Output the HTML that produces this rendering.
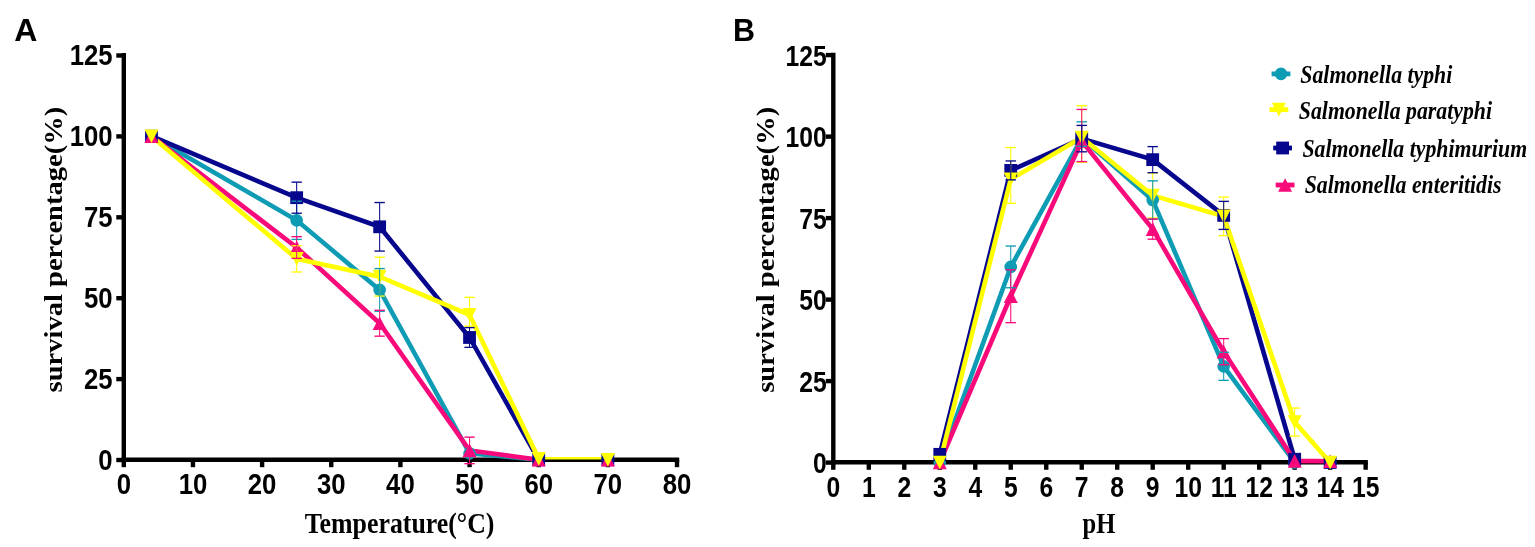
<!DOCTYPE html><html><head><meta charset="utf-8"><title>Survival percentage of Salmonella vs temperature and pH</title>
<style>html,body{margin:0;padding:0;background:#fff;}svg{display:block;filter:blur(0.45px);}</style></head><body>
<svg width="1535" height="547" viewBox="0 0 1535 547">
<rect width="1535" height="547" fill="#fff"/>
<text transform="translate(14.3,40.6) scale(1.05,1)" font-family="'Liberation Sans', Arial, sans-serif" font-size="30.5" font-weight="bold" font-style="normal" text-anchor="start" fill="#000">A</text>
<text transform="translate(733,40.6)" font-family="'Liberation Sans', Arial, sans-serif" font-size="30.5" font-weight="bold" font-style="normal" text-anchor="start" fill="#000">B</text>
<g stroke="#000" stroke-width="4.4" fill="none" stroke-linecap="butt">
<line x1="123.8" y1="53.1" x2="123.8" y2="461.9"/>
<line x1="121.6" y1="459.7" x2="679.2" y2="459.7"/>
<line x1="116.3" y1="460" x2="123.8" y2="460"/>
<line x1="116.3" y1="379.1" x2="123.8" y2="379.1"/>
<line x1="116.3" y1="298.2" x2="123.8" y2="298.2"/>
<line x1="116.3" y1="217.3" x2="123.8" y2="217.3"/>
<line x1="116.3" y1="136.4" x2="123.8" y2="136.4"/>
<line x1="116.3" y1="55.5" x2="123.8" y2="55.5"/>
<line x1="123.8" y1="459.7" x2="123.8" y2="467.2"/>
<line x1="192.95" y1="459.7" x2="192.95" y2="467.2"/>
<line x1="262.1" y1="459.7" x2="262.1" y2="467.2"/>
<line x1="331.25" y1="459.7" x2="331.25" y2="467.2"/>
<line x1="400.4" y1="459.7" x2="400.4" y2="467.2"/>
<line x1="469.55" y1="459.7" x2="469.55" y2="467.2"/>
<line x1="538.7" y1="459.7" x2="538.7" y2="467.2"/>
<line x1="607.85" y1="459.7" x2="607.85" y2="467.2"/>
<line x1="677" y1="459.7" x2="677" y2="467.2"/>
</g>
<text transform="translate(112.6,469.6) scale(0.875,1)" font-family="'Liberation Sans', Arial, sans-serif" font-size="29.4" font-weight="bold" font-style="normal" text-anchor="end" fill="#000">0</text>
<text transform="translate(112.6,388.7) scale(0.875,1)" font-family="'Liberation Sans', Arial, sans-serif" font-size="29.4" font-weight="bold" font-style="normal" text-anchor="end" fill="#000">25</text>
<text transform="translate(112.6,307.8) scale(0.875,1)" font-family="'Liberation Sans', Arial, sans-serif" font-size="29.4" font-weight="bold" font-style="normal" text-anchor="end" fill="#000">50</text>
<text transform="translate(112.6,226.9) scale(0.875,1)" font-family="'Liberation Sans', Arial, sans-serif" font-size="29.4" font-weight="bold" font-style="normal" text-anchor="end" fill="#000">75</text>
<text transform="translate(112.6,146) scale(0.875,1)" font-family="'Liberation Sans', Arial, sans-serif" font-size="29.4" font-weight="bold" font-style="normal" text-anchor="end" fill="#000">100</text>
<text transform="translate(112.6,65.1) scale(0.875,1)" font-family="'Liberation Sans', Arial, sans-serif" font-size="29.4" font-weight="bold" font-style="normal" text-anchor="end" fill="#000">125</text>
<text transform="translate(123.8,494) scale(0.875,1)" font-family="'Liberation Sans', Arial, sans-serif" font-size="29.4" font-weight="bold" font-style="normal" text-anchor="middle" fill="#000">0</text>
<text transform="translate(192.95,494) scale(0.875,1)" font-family="'Liberation Sans', Arial, sans-serif" font-size="29.4" font-weight="bold" font-style="normal" text-anchor="middle" fill="#000">10</text>
<text transform="translate(262.1,494) scale(0.875,1)" font-family="'Liberation Sans', Arial, sans-serif" font-size="29.4" font-weight="bold" font-style="normal" text-anchor="middle" fill="#000">20</text>
<text transform="translate(331.25,494) scale(0.875,1)" font-family="'Liberation Sans', Arial, sans-serif" font-size="29.4" font-weight="bold" font-style="normal" text-anchor="middle" fill="#000">30</text>
<text transform="translate(400.4,494) scale(0.875,1)" font-family="'Liberation Sans', Arial, sans-serif" font-size="29.4" font-weight="bold" font-style="normal" text-anchor="middle" fill="#000">40</text>
<text transform="translate(469.55,494) scale(0.875,1)" font-family="'Liberation Sans', Arial, sans-serif" font-size="29.4" font-weight="bold" font-style="normal" text-anchor="middle" fill="#000">50</text>
<text transform="translate(538.7,494) scale(0.875,1)" font-family="'Liberation Sans', Arial, sans-serif" font-size="29.4" font-weight="bold" font-style="normal" text-anchor="middle" fill="#000">60</text>
<text transform="translate(607.85,494) scale(0.875,1)" font-family="'Liberation Sans', Arial, sans-serif" font-size="29.4" font-weight="bold" font-style="normal" text-anchor="middle" fill="#000">70</text>
<text transform="translate(677,494) scale(0.875,1)" font-family="'Liberation Sans', Arial, sans-serif" font-size="29.4" font-weight="bold" font-style="normal" text-anchor="middle" fill="#000">80</text>
<polyline points="151.46,136.2 296.68,220.34 379.65,289.91 469.55,453.33 538.7,459.8" fill="none" stroke="#0e9bb4" stroke-width="4.6" stroke-linejoin="miter"/>
<polyline points="151.46,136.2 296.68,197.68 379.65,226.81 469.55,337.48 538.7,459.8" fill="none" stroke="#07078e" stroke-width="4.6" stroke-linejoin="miter"/>
<polyline points="151.46,136.2 296.68,247.52 379.65,323.24 469.55,450.42 538.7,459.8" fill="none" stroke="#f80a7a" stroke-width="4.6" stroke-linejoin="miter"/>
<polyline points="151.46,136.2 296.68,258.84 379.65,276.64 469.55,314.83 538.7,458.83" fill="none" stroke="#ffff00" stroke-width="4.6" stroke-linejoin="miter"/>
<line x1="538.7" y1="458.3" x2="607.85" y2="458.3" stroke="#ffff00" stroke-width="2.6"/>
<circle cx="151.46" cy="136.2" r="6.3" fill="#0e9bb4"/>
<circle cx="296.68" cy="220.34" r="6.3" fill="#0e9bb4"/>
<circle cx="379.65" cy="289.91" r="6.3" fill="#0e9bb4"/>
<circle cx="469.55" cy="453.33" r="6.3" fill="#0e9bb4"/>
<circle cx="538.7" cy="459.8" r="6.3" fill="#0e9bb4"/>
<circle cx="607.85" cy="459.8" r="6.3" fill="#0e9bb4"/>
<rect x="145.06" y="129.8" width="12.8" height="12.8" fill="#07078e"/>
<rect x="290.28" y="191.28" width="12.8" height="12.8" fill="#07078e"/>
<rect x="373.25" y="220.41" width="12.8" height="12.8" fill="#07078e"/>
<rect x="463.15" y="331.08" width="12.8" height="12.8" fill="#07078e"/>
<rect x="532.3" y="453.4" width="12.8" height="12.8" fill="#07078e"/>
<rect x="601.45" y="453.4" width="12.8" height="12.8" fill="#07078e"/>
<polygon points="151.46,129.4 158.46,143 144.46,143" fill="#f80a7a"/>
<polygon points="296.68,240.72 303.68,254.32 289.68,254.32" fill="#f80a7a"/>
<polygon points="379.65,316.44 386.65,330.04 372.65,330.04" fill="#f80a7a"/>
<polygon points="469.55,443.62 476.55,457.22 462.55,457.22" fill="#f80a7a"/>
<polygon points="538.7,453 545.7,466.6 531.7,466.6" fill="#f80a7a"/>
<polygon points="607.85,453 614.85,466.6 600.85,466.6" fill="#f80a7a"/>
<polygon points="151.46,143 158.46,129.4 144.46,129.4" fill="#ffff00"/>
<polygon points="296.68,265.64 303.68,252.04 289.68,252.04" fill="#ffff00"/>
<polygon points="379.65,283.44 386.65,269.84 372.65,269.84" fill="#ffff00"/>
<polygon points="469.55,321.63 476.55,308.03 462.55,308.03" fill="#ffff00"/>
<polygon points="538.7,465.63 545.7,452.03 531.7,452.03" fill="#ffff00"/>
<polygon points="607.85,466.6 614.85,453 600.85,453" fill="#ffff00"/>
<g stroke="#ffff00" stroke-width="1.35"><line x1="296.68" y1="245.71" x2="296.68" y2="271.98" stroke-width="1.05"/><line x1="291.48" y1="245.71" x2="301.88" y2="245.71"/><line x1="291.48" y1="271.98" x2="301.88" y2="271.98"/></g>
<g stroke="#ffff00" stroke-width="1.35"><line x1="379.65" y1="257.23" x2="379.65" y2="296.06" stroke-width="1.05"/><line x1="374.45" y1="257.23" x2="384.85" y2="257.23"/><line x1="374.45" y1="296.06" x2="384.85" y2="296.06"/></g>
<g stroke="#ffff00" stroke-width="1.35"><line x1="469.55" y1="297.35" x2="469.55" y2="326.15" stroke-width="1.05"/><line x1="464.35" y1="297.35" x2="474.75" y2="297.35"/><line x1="464.35" y1="326.15" x2="474.75" y2="326.15"/></g>
<g stroke="#0e9bb4" stroke-width="1.35"><line x1="296.68" y1="201.24" x2="296.68" y2="239.43" stroke-width="1.05"/><line x1="291.48" y1="201.24" x2="301.88" y2="201.24"/><line x1="291.48" y1="239.43" x2="301.88" y2="239.43"/></g>
<g stroke="#0e9bb4" stroke-width="1.35"><line x1="379.65" y1="268.55" x2="379.65" y2="311.27" stroke-width="1.05"/><line x1="374.45" y1="268.55" x2="384.85" y2="268.55"/><line x1="374.45" y1="311.27" x2="384.85" y2="311.27"/></g>
<g stroke="#f80a7a" stroke-width="1.35"><line x1="296.68" y1="236.68" x2="296.68" y2="258.36" stroke-width="1.05"/><line x1="291.48" y1="236.68" x2="301.88" y2="236.68"/><line x1="291.48" y1="258.36" x2="301.88" y2="258.36"/></g>
<g stroke="#f80a7a" stroke-width="1.35"><line x1="379.65" y1="310.3" x2="379.65" y2="336.18" stroke-width="1.05"/><line x1="374.45" y1="310.3" x2="384.85" y2="310.3"/><line x1="374.45" y1="336.18" x2="384.85" y2="336.18"/></g>
<g stroke="#f80a7a" stroke-width="1.35"><line x1="469.55" y1="437.15" x2="469.55" y2="463.68" stroke-width="1.05"/><line x1="464.35" y1="437.15" x2="474.75" y2="437.15"/><line x1="464.35" y1="463.68" x2="474.75" y2="463.68"/></g>
<g stroke="#07078e" stroke-width="1.35"><line x1="296.68" y1="182.15" x2="296.68" y2="213.22" stroke-width="1.05"/><line x1="291.48" y1="182.15" x2="301.88" y2="182.15"/><line x1="291.48" y1="213.22" x2="301.88" y2="213.22"/></g>
<g stroke="#07078e" stroke-width="1.35"><line x1="379.65" y1="202.54" x2="379.65" y2="251.08" stroke-width="1.05"/><line x1="374.45" y1="202.54" x2="384.85" y2="202.54"/><line x1="374.45" y1="251.08" x2="384.85" y2="251.08"/></g>
<g stroke="#07078e" stroke-width="1.35"><line x1="469.55" y1="327.61" x2="469.55" y2="347.35" stroke-width="1.05"/><line x1="464.35" y1="327.61" x2="474.75" y2="327.61"/><line x1="464.35" y1="347.35" x2="474.75" y2="347.35"/></g>
<text transform="translate(62.1,249.6) rotate(-90) scale(1,0.9)" font-family="'Liberation Serif', 'Times New Roman', serif" font-size="28.55" font-weight="bold" font-style="normal" text-anchor="middle" fill="#000">survival percentage(%)</text>
<text transform="translate(399.6,533.3) scale(0.91,1)" font-family="'Liberation Serif', 'Times New Roman', serif" font-size="28.4" font-weight="bold" font-style="normal" text-anchor="middle" fill="#000">Temperature(°C)</text>
<g stroke="#000" stroke-width="4.4" fill="none" stroke-linecap="butt">
<line x1="833.3" y1="52.8" x2="833.3" y2="464.5"/>
<line x1="831.1" y1="462.3" x2="1367.85" y2="462.3"/>
<line x1="825.8" y1="462.6" x2="833.3" y2="462.6"/>
<line x1="825.8" y1="381.1" x2="833.3" y2="381.1"/>
<line x1="825.8" y1="299.6" x2="833.3" y2="299.6"/>
<line x1="825.8" y1="218.1" x2="833.3" y2="218.1"/>
<line x1="825.8" y1="136.6" x2="833.3" y2="136.6"/>
<line x1="825.8" y1="55.1" x2="833.3" y2="55.1"/>
<line x1="833.3" y1="462.3" x2="833.3" y2="469.8"/>
<line x1="868.79" y1="462.3" x2="868.79" y2="469.8"/>
<line x1="904.28" y1="462.3" x2="904.28" y2="469.8"/>
<line x1="939.77" y1="462.3" x2="939.77" y2="469.8"/>
<line x1="975.26" y1="462.3" x2="975.26" y2="469.8"/>
<line x1="1010.75" y1="462.3" x2="1010.75" y2="469.8"/>
<line x1="1046.24" y1="462.3" x2="1046.24" y2="469.8"/>
<line x1="1081.73" y1="462.3" x2="1081.73" y2="469.8"/>
<line x1="1117.22" y1="462.3" x2="1117.22" y2="469.8"/>
<line x1="1152.71" y1="462.3" x2="1152.71" y2="469.8"/>
<line x1="1188.2" y1="462.3" x2="1188.2" y2="469.8"/>
<line x1="1223.69" y1="462.3" x2="1223.69" y2="469.8"/>
<line x1="1259.18" y1="462.3" x2="1259.18" y2="469.8"/>
<line x1="1294.67" y1="462.3" x2="1294.67" y2="469.8"/>
<line x1="1330.16" y1="462.3" x2="1330.16" y2="469.8"/>
<line x1="1365.65" y1="462.3" x2="1365.65" y2="469.8"/>
</g>
<text transform="translate(826.8,473.2) scale(0.84,1)" font-family="'Liberation Sans', Arial, sans-serif" font-size="29.4" font-weight="bold" font-style="normal" text-anchor="end" fill="#000">0</text>
<text transform="translate(826.8,391.7) scale(0.84,1)" font-family="'Liberation Sans', Arial, sans-serif" font-size="29.4" font-weight="bold" font-style="normal" text-anchor="end" fill="#000">25</text>
<text transform="translate(826.8,310.2) scale(0.84,1)" font-family="'Liberation Sans', Arial, sans-serif" font-size="29.4" font-weight="bold" font-style="normal" text-anchor="end" fill="#000">50</text>
<text transform="translate(826.8,228.7) scale(0.84,1)" font-family="'Liberation Sans', Arial, sans-serif" font-size="29.4" font-weight="bold" font-style="normal" text-anchor="end" fill="#000">75</text>
<text transform="translate(826.8,147.2) scale(0.84,1)" font-family="'Liberation Sans', Arial, sans-serif" font-size="29.4" font-weight="bold" font-style="normal" text-anchor="end" fill="#000">100</text>
<text transform="translate(826.8,65.7) scale(0.84,1)" font-family="'Liberation Sans', Arial, sans-serif" font-size="29.4" font-weight="bold" font-style="normal" text-anchor="end" fill="#000">125</text>
<text transform="translate(833.3,496.6) scale(0.84,1)" font-family="'Liberation Sans', Arial, sans-serif" font-size="29.4" font-weight="bold" font-style="normal" text-anchor="middle" fill="#000">0</text>
<text transform="translate(868.79,496.6) scale(0.84,1)" font-family="'Liberation Sans', Arial, sans-serif" font-size="29.4" font-weight="bold" font-style="normal" text-anchor="middle" fill="#000">1</text>
<text transform="translate(904.28,496.6) scale(0.84,1)" font-family="'Liberation Sans', Arial, sans-serif" font-size="29.4" font-weight="bold" font-style="normal" text-anchor="middle" fill="#000">2</text>
<text transform="translate(939.77,496.6) scale(0.84,1)" font-family="'Liberation Sans', Arial, sans-serif" font-size="29.4" font-weight="bold" font-style="normal" text-anchor="middle" fill="#000">3</text>
<text transform="translate(975.26,496.6) scale(0.84,1)" font-family="'Liberation Sans', Arial, sans-serif" font-size="29.4" font-weight="bold" font-style="normal" text-anchor="middle" fill="#000">4</text>
<text transform="translate(1010.75,496.6) scale(0.84,1)" font-family="'Liberation Sans', Arial, sans-serif" font-size="29.4" font-weight="bold" font-style="normal" text-anchor="middle" fill="#000">5</text>
<text transform="translate(1046.24,496.6) scale(0.84,1)" font-family="'Liberation Sans', Arial, sans-serif" font-size="29.4" font-weight="bold" font-style="normal" text-anchor="middle" fill="#000">6</text>
<text transform="translate(1081.73,496.6) scale(0.84,1)" font-family="'Liberation Sans', Arial, sans-serif" font-size="29.4" font-weight="bold" font-style="normal" text-anchor="middle" fill="#000">7</text>
<text transform="translate(1117.22,496.6) scale(0.84,1)" font-family="'Liberation Sans', Arial, sans-serif" font-size="29.4" font-weight="bold" font-style="normal" text-anchor="middle" fill="#000">8</text>
<text transform="translate(1152.71,496.6) scale(0.84,1)" font-family="'Liberation Sans', Arial, sans-serif" font-size="29.4" font-weight="bold" font-style="normal" text-anchor="middle" fill="#000">9</text>
<text transform="translate(1188.2,496.6) scale(0.84,1)" font-family="'Liberation Sans', Arial, sans-serif" font-size="29.4" font-weight="bold" font-style="normal" text-anchor="middle" fill="#000">10</text>
<text transform="translate(1223.69,496.6) scale(0.84,1)" font-family="'Liberation Sans', Arial, sans-serif" font-size="29.4" font-weight="bold" font-style="normal" text-anchor="middle" fill="#000">11</text>
<text transform="translate(1259.18,496.6) scale(0.84,1)" font-family="'Liberation Sans', Arial, sans-serif" font-size="29.4" font-weight="bold" font-style="normal" text-anchor="middle" fill="#000">12</text>
<text transform="translate(1294.67,496.6) scale(0.84,1)" font-family="'Liberation Sans', Arial, sans-serif" font-size="29.4" font-weight="bold" font-style="normal" text-anchor="middle" fill="#000">13</text>
<text transform="translate(1330.16,496.6) scale(0.84,1)" font-family="'Liberation Sans', Arial, sans-serif" font-size="29.4" font-weight="bold" font-style="normal" text-anchor="middle" fill="#000">14</text>
<text transform="translate(1365.65,496.6) scale(0.84,1)" font-family="'Liberation Sans', Arial, sans-serif" font-size="29.4" font-weight="bold" font-style="normal" text-anchor="middle" fill="#000">15</text>
<polyline points="939.77,462.5 1010.75,266.9 1081.73,138.13 1152.71,200.07 1223.69,366.33 1294.67,462.5" fill="none" stroke="#0e9bb4" stroke-width="4.6" stroke-linejoin="miter"/>
<polyline points="939.77,454.35 1010.75,170.4 1081.73,138.62 1152.71,159.65 1223.69,215.39 1294.67,459.24" fill="none" stroke="#07078e" stroke-width="4.6" stroke-linejoin="miter"/>
<polyline points="939.77,462.5 1010.75,296.24 1081.73,141.06 1152.71,229.08 1223.69,351.66 1294.67,460.87 1330.16,461.2" fill="none" stroke="#f80a7a" stroke-width="4.6" stroke-linejoin="miter"/>
<polyline points="939.77,462.5 1010.75,179.21 1081.73,137.48 1152.71,195.51 1223.69,216.37 1294.67,422.08 1330.16,462.5" fill="none" stroke="#ffff00" stroke-width="4.6" stroke-linejoin="miter"/>
<circle cx="939.77" cy="462.5" r="6.3" fill="#0e9bb4"/>
<circle cx="1010.75" cy="266.9" r="6.3" fill="#0e9bb4"/>
<circle cx="1081.73" cy="138.13" r="6.3" fill="#0e9bb4"/>
<circle cx="1152.71" cy="200.07" r="6.3" fill="#0e9bb4"/>
<circle cx="1223.69" cy="366.33" r="6.3" fill="#0e9bb4"/>
<circle cx="1294.67" cy="462.5" r="6.3" fill="#0e9bb4"/>
<circle cx="1330.16" cy="462.5" r="6.3" fill="#0e9bb4"/>
<rect x="933.37" y="447.95" width="12.8" height="12.8" fill="#07078e"/>
<rect x="1004.35" y="164" width="12.8" height="12.8" fill="#07078e"/>
<rect x="1075.33" y="132.22" width="12.8" height="12.8" fill="#07078e"/>
<rect x="1146.31" y="153.25" width="12.8" height="12.8" fill="#07078e"/>
<rect x="1217.29" y="208.99" width="12.8" height="12.8" fill="#07078e"/>
<rect x="1288.27" y="452.84" width="12.8" height="12.8" fill="#07078e"/>
<rect x="1323.76" y="456.1" width="12.8" height="12.8" fill="#07078e"/>
<polygon points="939.77,455.7 946.77,469.3 932.77,469.3" fill="#f80a7a"/>
<polygon points="1010.75,289.44 1017.75,303.04 1003.75,303.04" fill="#f80a7a"/>
<polygon points="1081.73,134.26 1088.73,147.86 1074.73,147.86" fill="#f80a7a"/>
<polygon points="1152.71,222.28 1159.71,235.88 1145.71,235.88" fill="#f80a7a"/>
<polygon points="1223.69,344.86 1230.69,358.46 1216.69,358.46" fill="#f80a7a"/>
<polygon points="1294.67,454.07 1301.67,467.67 1287.67,467.67" fill="#f80a7a"/>
<polygon points="1330.16,454.4 1337.16,468 1323.16,468" fill="#f80a7a"/>
<polygon points="939.77,469.3 946.77,455.7 932.77,455.7" fill="#ffff00"/>
<polygon points="1010.75,186.01 1017.75,172.41 1003.75,172.41" fill="#ffff00"/>
<polygon points="1081.73,144.28 1088.73,130.68 1074.73,130.68" fill="#ffff00"/>
<polygon points="1152.71,202.31 1159.71,188.71 1145.71,188.71" fill="#ffff00"/>
<polygon points="1223.69,223.17 1230.69,209.57 1216.69,209.57" fill="#ffff00"/>
<polygon points="1294.67,428.88 1301.67,415.28 1287.67,415.28" fill="#ffff00"/>
<polygon points="1330.16,469.3 1337.16,455.7 1323.16,455.7" fill="#ffff00"/>
<g stroke="#ffff00" stroke-width="1.35"><line x1="1010.75" y1="147.58" x2="1010.75" y2="203.33" stroke-width="1.05"/><line x1="1005.55" y1="147.58" x2="1015.95" y2="147.58"/><line x1="1005.55" y1="203.33" x2="1015.95" y2="203.33"/></g>
<g stroke="#ffff00" stroke-width="1.35"><line x1="1081.73" y1="105.69" x2="1081.73" y2="162.25" stroke-width="1.05"/><line x1="1076.53" y1="105.69" x2="1086.93" y2="105.69"/><line x1="1076.53" y1="162.25" x2="1086.93" y2="162.25"/></g>
<g stroke="#ffff00" stroke-width="1.35"><line x1="1152.71" y1="173.01" x2="1152.71" y2="218" stroke-width="1.05"/><line x1="1147.51" y1="173.01" x2="1157.91" y2="173.01"/><line x1="1147.51" y1="218" x2="1157.91" y2="218"/></g>
<g stroke="#ffff00" stroke-width="1.35"><line x1="1223.69" y1="197.14" x2="1223.69" y2="235.6" stroke-width="1.05"/><line x1="1218.49" y1="197.14" x2="1228.89" y2="197.14"/><line x1="1218.49" y1="235.6" x2="1228.89" y2="235.6"/></g>
<g stroke="#ffff00" stroke-width="1.35"><line x1="1294.67" y1="408.06" x2="1294.67" y2="436.09" stroke-width="1.05"/><line x1="1289.47" y1="408.06" x2="1299.87" y2="408.06"/><line x1="1289.47" y1="436.09" x2="1299.87" y2="436.09"/></g>
<g stroke="#0e9bb4" stroke-width="1.35"><line x1="1010.75" y1="246.04" x2="1010.75" y2="287.76" stroke-width="1.05"/><line x1="1005.55" y1="246.04" x2="1015.95" y2="246.04"/><line x1="1005.55" y1="287.76" x2="1015.95" y2="287.76"/></g>
<g stroke="#0e9bb4" stroke-width="1.35"><line x1="1081.73" y1="121.83" x2="1081.73" y2="146.28" stroke-width="1.05"/><line x1="1076.53" y1="121.83" x2="1086.93" y2="121.83"/><line x1="1076.53" y1="146.28" x2="1086.93" y2="146.28"/></g>
<g stroke="#0e9bb4" stroke-width="1.35"><line x1="1152.71" y1="180.84" x2="1152.71" y2="219.3" stroke-width="1.05"/><line x1="1147.51" y1="180.84" x2="1157.91" y2="180.84"/><line x1="1147.51" y1="219.3" x2="1157.91" y2="219.3"/></g>
<g stroke="#0e9bb4" stroke-width="1.35"><line x1="1223.69" y1="352.31" x2="1223.69" y2="380.35" stroke-width="1.05"/><line x1="1218.49" y1="352.31" x2="1228.89" y2="352.31"/><line x1="1218.49" y1="380.35" x2="1228.89" y2="380.35"/></g>
<g stroke="#f80a7a" stroke-width="1.35"><line x1="1010.75" y1="269.83" x2="1010.75" y2="322.65" stroke-width="1.05"/><line x1="1005.55" y1="269.83" x2="1015.95" y2="269.83"/><line x1="1005.55" y1="322.65" x2="1015.95" y2="322.65"/></g>
<g stroke="#f80a7a" stroke-width="1.35"><line x1="1081.73" y1="109.44" x2="1081.73" y2="161.6" stroke-width="1.05"/><line x1="1076.53" y1="109.44" x2="1086.93" y2="109.44"/><line x1="1076.53" y1="161.6" x2="1086.93" y2="161.6"/></g>
<g stroke="#f80a7a" stroke-width="1.35"><line x1="1152.71" y1="218.98" x2="1152.71" y2="239.19" stroke-width="1.05"/><line x1="1147.51" y1="218.98" x2="1157.91" y2="218.98"/><line x1="1147.51" y1="239.19" x2="1157.91" y2="239.19"/></g>
<g stroke="#f80a7a" stroke-width="1.35"><line x1="1223.69" y1="338.62" x2="1223.69" y2="364.7" stroke-width="1.05"/><line x1="1218.49" y1="338.62" x2="1228.89" y2="338.62"/><line x1="1218.49" y1="364.7" x2="1228.89" y2="364.7"/></g>
<g stroke="#07078e" stroke-width="1.35"><line x1="1010.75" y1="160.95" x2="1010.75" y2="179.86" stroke-width="1.05"/><line x1="1005.55" y1="160.95" x2="1015.95" y2="160.95"/><line x1="1005.55" y1="179.86" x2="1015.95" y2="179.86"/></g>
<g stroke="#07078e" stroke-width="1.35"><line x1="1081.73" y1="125.42" x2="1081.73" y2="151.82" stroke-width="1.05"/><line x1="1076.53" y1="125.42" x2="1086.93" y2="125.42"/><line x1="1076.53" y1="151.82" x2="1086.93" y2="151.82"/></g>
<g stroke="#07078e" stroke-width="1.35"><line x1="1152.71" y1="146.61" x2="1152.71" y2="172.69" stroke-width="1.05"/><line x1="1147.51" y1="146.61" x2="1157.91" y2="146.61"/><line x1="1147.51" y1="172.69" x2="1157.91" y2="172.69"/></g>
<g stroke="#07078e" stroke-width="1.35"><line x1="1223.69" y1="201.37" x2="1223.69" y2="229.41" stroke-width="1.05"/><line x1="1218.49" y1="201.37" x2="1228.89" y2="201.37"/><line x1="1218.49" y1="229.41" x2="1228.89" y2="229.41"/></g>
<text transform="translate(773.8,249.8) rotate(-90) scale(1,0.9)" font-family="'Liberation Serif', 'Times New Roman', serif" font-size="28.6" font-weight="bold" font-style="normal" text-anchor="middle" fill="#000">survival percentage(%)</text>
<text transform="translate(1098.9,532.6) scale(0.865,1)" font-family="'Liberation Serif', 'Times New Roman', serif" font-size="28.4" font-weight="bold" font-style="normal" text-anchor="middle" fill="#000">pH</text>
<line x1="1271.6" y1="73.9" x2="1290.4" y2="73.9" stroke="#0e9bb4" stroke-width="4.8"/>
<circle cx="1281" cy="73.9" r="6.3" fill="#0e9bb4"/>
<text transform="translate(1300.3,82.8) scale(0.855,1)" font-family="'Liberation Serif', 'Times New Roman', serif" font-size="25.5" font-weight="bold" font-style="italic" fill="#000">Salmonella typhi</text>
<line x1="1269.5" y1="109.6" x2="1288.3" y2="109.6" stroke="#ffff00" stroke-width="4.8"/>
<polygon points="1278.9,116.4 1285.9,102.8 1271.9,102.8" fill="#ffff00"/>
<text transform="translate(1298.8,119.4) scale(0.855,1)" font-family="'Liberation Serif', 'Times New Roman', serif" font-size="25.5" font-weight="bold" font-style="italic" fill="#000">Salmonella paratyphi</text>
<line x1="1273.2" y1="148" x2="1292" y2="148" stroke="#07078e" stroke-width="4.8"/>
<rect x="1276.2" y="141.6" width="12.8" height="12.8" fill="#07078e"/>
<text transform="translate(1302.5,157.1) scale(0.855,1)" font-family="'Liberation Serif', 'Times New Roman', serif" font-size="25.5" font-weight="bold" font-style="italic" fill="#000">Salmonella typhimurium</text>
<line x1="1275.7" y1="185" x2="1294.5" y2="185" stroke="#f80a7a" stroke-width="4.8"/>
<polygon points="1285.1,178.2 1292.1,191.8 1278.1,191.8" fill="#f80a7a"/>
<text transform="translate(1304.7,193) scale(0.855,1)" font-family="'Liberation Serif', 'Times New Roman', serif" font-size="25.5" font-weight="bold" font-style="italic" fill="#000">Salmonella enteritidis</text>
</svg></body></html>
